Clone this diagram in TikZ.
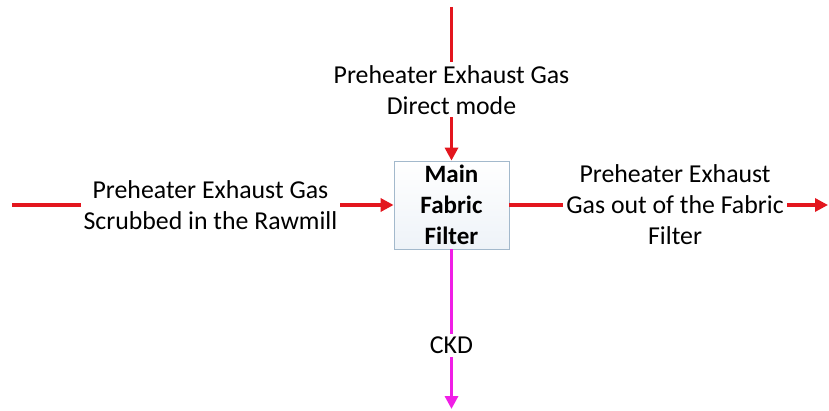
\documentclass[tikz,border=0pt]{standalone}
\usepackage{fontspec}
\setmainfont{Carlito}
\usetikzlibrary{positioning,arrows.meta}
\definecolor{gasred}{HTML}{E3161E}
\definecolor{ckdpink}{HTML}{F01EE6}
\definecolor{edge}{HTML}{A3B9CC}
\definecolor{tint}{HTML}{EEF3F8}
\tikzset{
  unit/.style={draw=edge, line width=0.8pt, top color=white, bottom color=tint, minimum width=115pt, minimum height=88pt, inner sep=0pt, align=center, font=\fontsize{25}{31}\selectfont\bfseries},
  lab/.style={fill=white, inner sep=3pt, align=center, font=\fontsize{25.8}{31}\selectfont},
  gas/.style={draw=gasred, line width=3.2pt, -{Triangle[length=13pt,width=13pt]}},
  dust/.style={draw=ckdpink, line width=3.2pt, -{Triangle[length=13pt,width=13pt]}},
}
\begin{document}
\begin{tikzpicture}[x=1pt,y=-1pt]
  \useasboundingbox (0,0) rectangle (829,411);
  \node[unit] (f) at (451.5,205) {Main\\Fabric\\Filter};
  \coordinate (top) at (451.5,7);
  \coordinate (lft) at (12,205);
  \coordinate (rgt) at (828,205);
  \coordinate (bot) at (451.5,409);
  \draw[gas] (top) -- node[lab, pos=0.54]{Preheater Exhaust Gas\\Direct mode} (f.north);
  \draw[gas] (lft) -- node[lab, pos=0.52]{Preheater Exhaust Gas\\Scrubbed in the Rawmill} (f.west);
  \draw[gas] (f.east) -- node[lab, pos=0.52]{Preheater Exhaust\\Gas out of the Fabric\\Filter} (rgt);
  \draw[dust] (f.south) -- node[lab, pos=0.6]{CKD} (bot);
\end{tikzpicture}
\end{document}
